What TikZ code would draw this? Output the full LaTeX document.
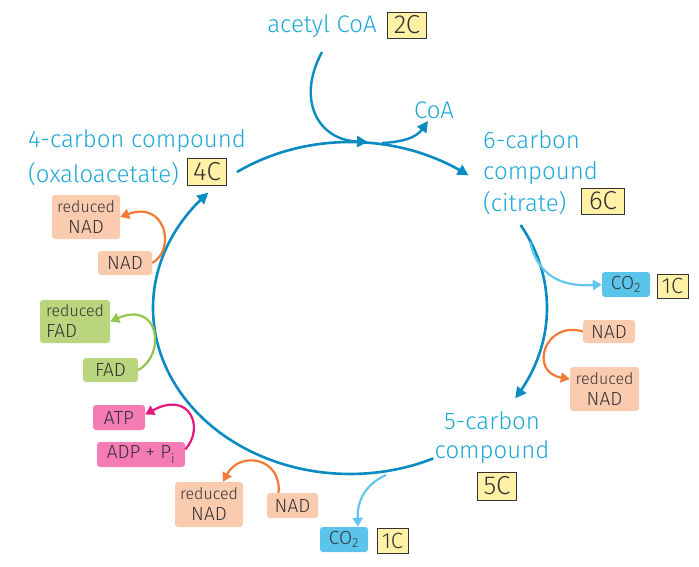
\documentclass[tikz,border=0pt]{standalone}
\usepackage{fontspec}
\setmainfont{Fira Sans Light}
\usetikzlibrary{arrows.meta}
\definecolor{txt}{HTML}{1EA8D6}
\definecolor{cyc}{HTML}{0A8BC2}
\definecolor{lblue}{HTML}{62C7EC}
\definecolor{co2fill}{HTML}{5AC4EA}
\definecolor{cfill}{HTML}{FFF1A6}
\definecolor{peach}{HTML}{FBCBB0}
\definecolor{orng}{HTML}{F27A34}
\definecolor{gfill}{HTML}{B9D57E}
\definecolor{garr}{HTML}{93C64A}
\definecolor{pfill}{HTML}{F47BB3}
\definecolor{parr}{HTML}{E2187E}
\definecolor{dk}{HTML}{333333}
\tikzset{
  lbl/.style={text=txt, inner sep=0pt, font=\fontsize{24}{28}\selectfont},
  cbox/.style={draw=dk, line width=0.9pt, fill=cfill, text=dk, inner sep=0pt, font=\fontsize{26}{28}\selectfont},
  sbox/.style={rounded corners=3pt, inner sep=0pt, text=dk, align=center, font=\fontsize{19}{21}\selectfont},
  nadbox/.style={sbox, fill=peach},
  fadbox/.style={sbox, fill=gfill},
  atpbox/.style={sbox, fill=pfill},
  co2box/.style={sbox, fill=co2fill},
  cycarrow/.style={draw=cyc, line width=2.6pt, -{Triangle[length=11pt,width=11pt]}},
  brarrow/.style={line width=2.2pt, -{Triangle[length=9pt,width=10pt]}},
}
\begin{document}
\begin{tikzpicture}[x=1pt,y=-1pt]
\useasboundingbox (0,0) rectangle (699,567);
\fill[white] (0,0) rectangle (699,567);

% labels
\node[lbl] (acetyl) at (322,26) {acetyl CoA};
\node[cbox, minimum width=39pt, minimum height=26pt] (c2) at (407,25) {2C};
\node[lbl] (coa) at (434,110) {CoA};
\node[lbl, anchor=west] (four) at (28,141) {4-carbon compound};
\node[lbl, anchor=west] (oxa) at (28,174) {(oxaloacetate)};
\node[cbox, minimum width=39pt, minimum height=27pt] (c4) at (207,172) {4C};
\node[lbl, anchor=west] (six) at (483,140) {6-carbon};
\node[lbl, anchor=west] (sixb) at (483,173) {compound};
\node[lbl, anchor=west] (cit) at (483,203) {(citrate)};
\node[cbox, minimum width=43pt, minimum height=26pt] (c6) at (603,201) {6C};
\node[lbl] (five) at (492,421) {5-carbon};
\node[lbl] (fiveb) at (492,452) {compound};
\node[cbox, minimum width=39pt, minimum height=28pt] (c5) at (497,486) {5C};

% side boxes
\node[nadbox, minimum width=68pt, minimum height=44pt] (rnadL) at (86,217) {\fontsize{16}{19}\selectfont reduced\\NAD};
\node[nadbox, minimum width=54pt, minimum height=24pt] (nadL) at (125,263) {NAD};
\node[fadbox, minimum width=70pt, minimum height=43pt, align=left] (rfad) at (75,321.5) {\fontsize{16}{19}\selectfont reduced\\FAD};
\node[fadbox, minimum width=55pt, minimum height=24pt] (fad) at (110.5,370) {FAD};
\node[atpbox, minimum width=52pt, minimum height=25pt] (atp) at (119,417.5) {ATP};
\node[atpbox, minimum width=88pt, minimum height=25pt] (adp) at (141,454.5) {ADP + P\textsubscript{i}};
\node[nadbox, minimum width=68pt, minimum height=45pt] (rnadB) at (209,504.5) {\fontsize{16}{19}\selectfont reduced\\NAD};
\node[nadbox, minimum width=51pt, minimum height=25pt] (nadB) at (292.5,505.5) {NAD};
\node[co2box, minimum width=48pt, minimum height=25pt] (co2B) at (344,539.5) {CO\textsubscript{2}};
\node[cbox, minimum width=31pt, minimum height=25pt, font=\fontsize{22}{24}\selectfont, line width=0.8pt] (c1B) at (392.5,540.5) {1C};
\node[co2box, minimum width=48pt, minimum height=25pt] (co2R) at (626,284.5) {CO\textsubscript{2}};
\node[cbox, minimum width=31pt, minimum height=24pt, font=\fontsize{22}{24}\selectfont, line width=0.8pt] (c1R) at (672.5,286) {1C};
\node[nadbox, minimum width=52pt, minimum height=23pt] (nadR) at (609,331.5) {NAD};
\node[nadbox, minimum width=69pt, minimum height=44pt] (rnadR) at (604.5,389) {\fontsize{16}{19}\selectfont reduced\\NAD};

% cycle arcs
\draw[cycarrow] plot[domain=65:224,samples=90] ({350+197*cos(\x)},{308+166*sin(\x)});
\draw[cycarrow] plot[domain=235:307,samples=50] ({350+197*cos(\x)},{308+166*sin(\x)});
\draw[cycarrow] plot[domain=-30:33,samples=50] ({350+197*cos(\x)},{308+166*sin(\x)});

% acetyl CoA in, CoA out
\coordinate (acs) at (322,52);
\coordinate (ace) at (368,142);
\coordinate (coas) at (382,143);
\coordinate (coae) at (428,121);
\draw[cycarrow, line width=2.4pt] (acs) .. controls (296,100) and (318,140) .. (ace);
\draw[cycarrow, line width=2.4pt] (coas) .. controls (402,142) and (416,138) .. (coae);

% CO2 branches
\coordinate (co2Rs) at (530,242);
\draw[brarrow, draw=lblue] (co2Rs) .. controls (538,275) and (560,287) .. (co2R.west);
\coordinate (co2Bs) at (386,475);
\draw[brarrow, draw=lblue] (co2Bs) .. controls (366,484) and (357,500) .. ([xshift=14pt]co2B.north);

% NAD / FAD / ATP branches
\draw[brarrow, draw=orng] (nadR.west) .. controls (545,320) and (528,372) .. ([yshift=10pt]rnadR.west);
\draw[brarrow, draw=orng] ([xshift=-14pt]nadB.north) .. controls (282,458) and (240,450) .. ([xshift=14pt]rnadB.north);
\draw[brarrow, draw=parr] ([yshift=5pt]adp.east) .. controls (205,428) and (190,390) .. ([yshift=3pt]atp.east);
\draw[brarrow, draw=garr] (fad.east) .. controls (166,355) and (160,300) .. (rfad.east);
\draw[brarrow, draw=orng] (nadL.east) .. controls (176,250) and (166,200) .. (rnadL.east);
\end{tikzpicture}
\end{document}
